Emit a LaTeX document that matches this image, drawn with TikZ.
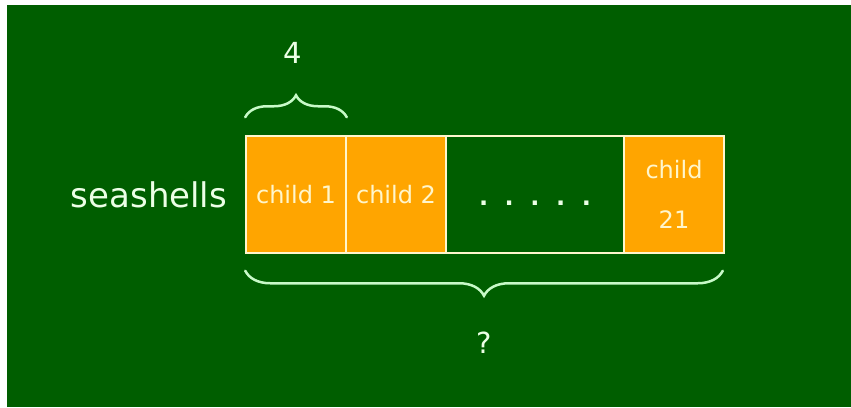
\documentclass[tikz,border=0pt]{standalone}
\usepackage{fontspec}
\setmainfont{DejaVu Sans}
\usetikzlibrary{decorations.pathreplacing}
\definecolor{board}{RGB}{0,94,0}
\definecolor{shell}{RGB}{255,165,0}
\definecolor{chalk}{RGB}{236,255,230}
\definecolor{cream}{RGB}{255,246,204}
\definecolor{bracecol}{RGB}{200,250,200}
\tikzstyle{cell} = [rectangle, draw=cream, line width=1.5pt, fill=shell, text=cream, minimum height=117pt, minimum width=100pt, inner sep=0pt, align=center, font=\fontsize{24}{50}\selectfont]
\tikzstyle{gapcell} = [cell, fill=board, minimum width=178pt]
\tikzstyle{chalktext} = [text=chalk, inner sep=0pt]
\tikzstyle{curly} = [bracecol, line width=2.5pt, decorate, line cap=round]

\begin{document}
\begin{tikzpicture}[x=1pt, y=-1pt]
\useasboundingbox (0,0) rectangle (851,407);
\fill [board] (7,5) rectangle (851,407);

\node (c1) [cell] at (296,194.5) {child 1};
\node (c2) [cell] at (396,194.5) {child 2};
\node (gap) [gapcell] at (535,194.5) {};
\node (c21) [cell] at (674,194.5) {child\\21};

\node (dots) [chalktext, anchor=base, font=\fontsize{24}{24}\selectfont\bfseries] at (535,205) {.\hspace{16.6pt}.\hspace{16.6pt}.\hspace{16.6pt}.\hspace{16.6pt}.};
\node (name) [chalktext, anchor=base, font=\fontsize{34}{40}\selectfont] at (149,207) {seashells};
\node (four) [chalktext, anchor=base, font=\fontsize{29}{30}\selectfont] at (293,63) {4};
\node (total) [chalktext, anchor=base, font=\fontsize{29}{30}\selectfont] at (484,353) {?};

% braces
\draw [curly, decoration={brace, amplitude=22pt}] ([yshift=18pt]c1.north west) -- ([yshift=18pt]c1.north east);
\draw [curly, decoration={brace, amplitude=25pt}] ([xshift=-2pt, yshift=-17pt]c21.south east) -- ([yshift=-17pt]c1.south west);

\end{tikzpicture}
\end{document}
